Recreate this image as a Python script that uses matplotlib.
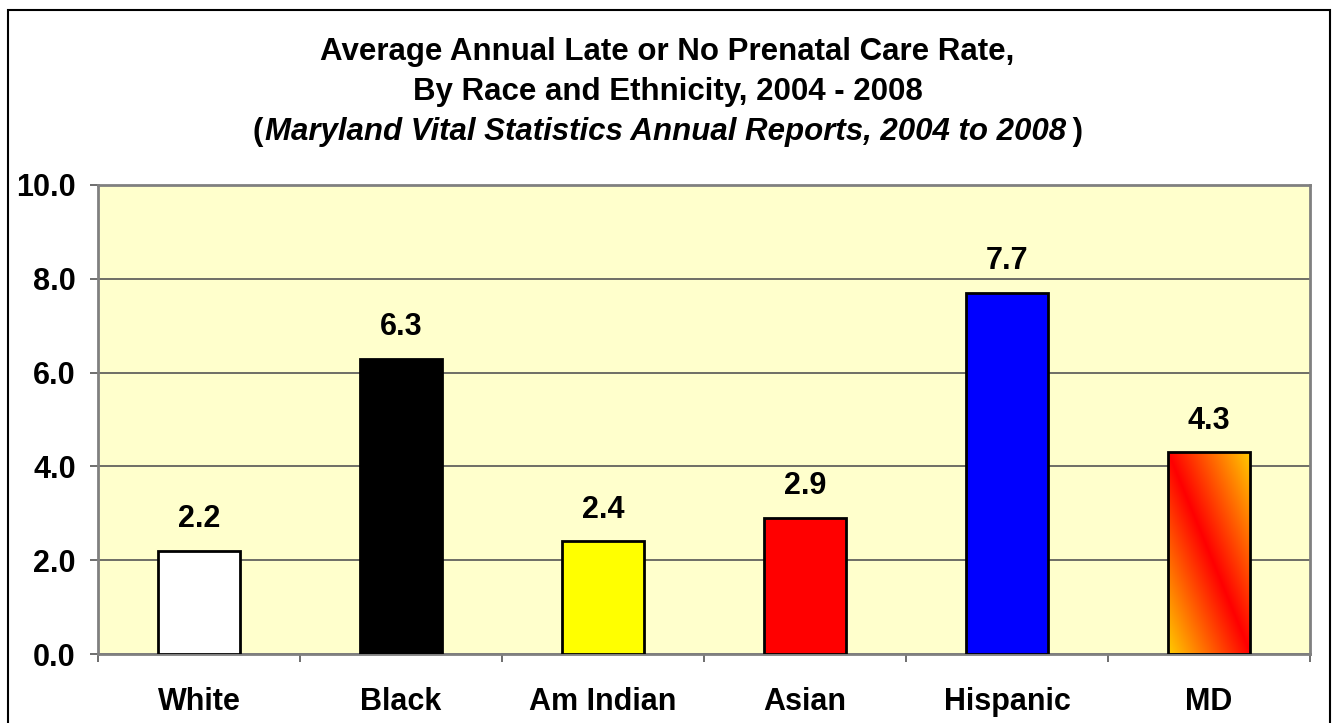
import matplotlib
matplotlib.use("Agg")
import matplotlib.pyplot as plt
import numpy as np
from matplotlib.colors import LinearSegmentedColormap
from matplotlib.patches import Rectangle

categories = ["White", "Black", "Am Indian", "Asian", "Hispanic", "MD"]
values = [2.2, 6.3, 2.4, 2.9, 7.7, 4.3]
bar_colors = ["#FFFFFF", "#000000", "#FFFF00", "#FF0000", "#0000FF", None]
yticks = [0.0, 2.0, 4.0, 6.0, 8.0, 10.0]
title_l1 = "Average Annual Late or No Prenatal Care Rate,"
title_l2 = "By Race and Ethnicity, 2004 - 2008"
title_l3 = "Maryland Vital Statistics Annual Reports, 2004 to 2008"

plt.rcParams['font.family'] = ['Liberation Sans', 'DejaVu Sans']
FS = 22
TFS = 22.5

W, H = 1335, 723
fig = plt.figure(figsize=(W / 100, H / 100), dpi=100)
fig.patch.set_facecolor("white")

ax = fig.add_axes([98 / W, 1 - 654 / H, (1310 - 98) / W, (654 - 185) / H])
ax.set_facecolor("#FFFFCC")
x = np.arange(len(categories))
bw = 0.41
bars = ax.bar(x, values, width=bw, color=[c if c else "none" for c in bar_colors],
              edgecolor="black", linewidth=2, zorder=3)

# gradient for MD bar
cmap = LinearSegmentedColormap.from_list("md", ["#FF0000", "#FF6600", "#FFCC00"])
u = np.linspace(0, 1, 200)
v = np.linspace(0, 1, 400)
U, V = np.meshgrid(u, v)
G = np.abs(U + V - 1)
b = bars[-1]
x0 = b.get_x(); w = b.get_width(); h = b.get_height()
ax.imshow(G, cmap=cmap, extent=[x0, x0 + w, 0, h], origin="lower",
          aspect="auto", zorder=2.5, interpolation="bilinear")

for xi, val in zip(x, values):
    ax.annotate(f"{val:.1f}", (xi, val), xytext=(0, 12), textcoords="offset points",
                ha="center", va="bottom", fontsize=FS, fontweight="bold")

ax.set_xlim(-0.5, len(categories) - 0.5)
ax.set_ylim(0, 10)
ax.set_yticks(yticks)
ax.set_yticklabels([f"{t:.1f}" for t in yticks], fontsize=FS, fontweight="bold")
ax.set_xticks(np.arange(len(categories) + 1) - 0.5)
ax.set_xticklabels([])
ax.set_xticks(x, minor=True)
ax.set_xticklabels(categories, minor=True, fontsize=FS, fontweight="bold")
ax.tick_params(axis="x", which="minor", length=0, pad=24)
ax.tick_params(axis="x", which="major", length=6, width=1.2, color="#555555", direction="out")
ax.tick_params(axis="y", length=6, width=1.2, color="#555555", direction="out", pad=10)
ax.yaxis.grid(True, color="#555555", linewidth=1.2, zorder=1)
ax.set_axisbelow(True)
for s in ax.spines.values():
    s.set_color("#808080")
    s.set_linewidth(2)

# outer border
fig.patches.append(Rectangle((8 / W, -0.05), (1330 - 8) / W, 1 - 10 / H + 0.05,
                             transform=fig.transFigure, fill=False,
                             edgecolor="black", linewidth=1.5))

fig.text(0.5, 1 - 52 / H, title_l1, ha="center", va="center", fontsize=TFS, fontweight="bold")
fig.text(0.5, 1 - 92 / H, title_l2, ha="center", va="center", fontsize=TFS, fontweight="bold")

# third line with mixed styles
y3 = 1 - 132 / H
t1 = fig.text(0, y3, "(", ha="left", va="center", fontsize=TFS, fontweight="bold")
t2 = fig.text(0, y3, title_l3, ha="left", va="center", fontsize=TFS, fontweight="bold", style="italic")
t3 = fig.text(0, y3, " )", ha="left", va="center", fontsize=TFS, fontweight="bold")
fig.canvas.draw()
r = fig.canvas.get_renderer()
w1 = t1.get_window_extent(r).width
w2 = t2.get_window_extent(r).width
w3 = t3.get_window_extent(r).width
total = w1 + w2 + w3
start = 0.5 * W - total / 2
t1.set_x(start / W)
t2.set_x((start + w1 + 2) / W)
t3.set_x((start + w1 + w2) / W)

fig.savefig("out.png", dpi=100)
